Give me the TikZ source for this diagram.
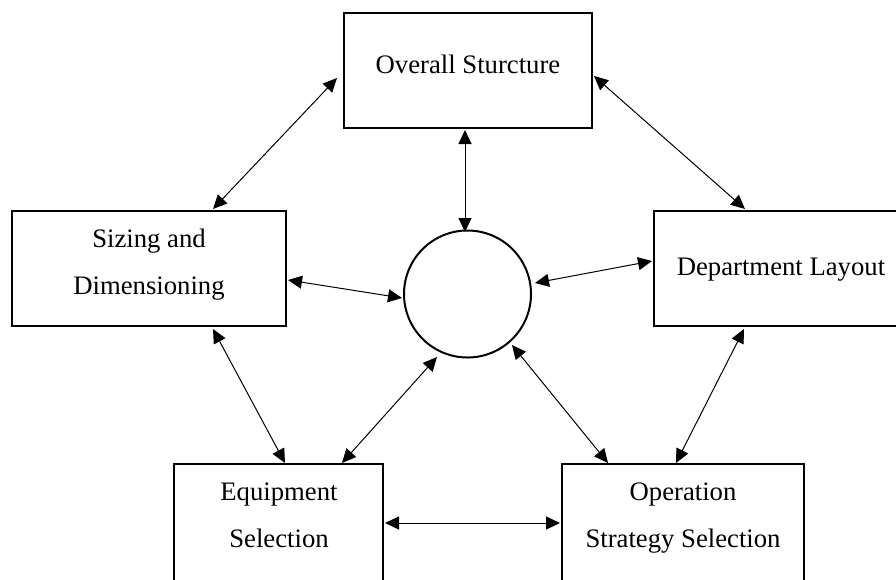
\documentclass[tikz,border=0pt]{standalone}
\usepackage{fontspec}
\setmainfont{Liberation Serif}
\usetikzlibrary{arrows.meta}
\begin{document}
\begin{tikzpicture}[x=1pt,y=-1pt,
  boxst/.style={draw,line width=2.2pt,inner sep=0pt},
  lbl/.style={font=\fontsize{26.7}{47}\selectfont,align=center,inner sep=0pt},
  conn/.style={line width=1pt,{Triangle[length=14pt,width=13pt]}-{Triangle[length=14pt,width=13pt]}}]
\useasboundingbox (0,0) rectangle (896,579);
% boxes
\draw[boxst] (344,13) rectangle (592,128);
\node[lbl] (ov) at (468,64) {Overall Sturcture};
\draw[boxst] (12,211) rectangle (286,326);
\node[lbl] (sz) at (149,265) {Sizing and\\Dimensioning};
\draw[boxst] (654,211) rectangle (908,326);
\node[lbl] (dl) at (781,270) {Department Layout};
\draw[boxst] (174,464) rectangle (383,600);
\node[lbl] (eq) at (279,515) {Equipment\\Selection};
\draw[boxst] (562,464) rectangle (804,600);
\node[lbl] (op) at (683,518) {Operation\\Strategy Selection};
\node[draw,circle,line width=2pt,minimum size=127pt,inner sep=0pt] (c) at (467.5,294) {};
% connector end points
\coordinate (a1) at (337,78);   \coordinate (b1) at (213,209);
\coordinate (a2) at (594,76);   \coordinate (b2) at (745,209);
\coordinate (a3) at (465,130);  \coordinate (b3) at (465,232);
\coordinate (a4) at (288,280);  \coordinate (b4) at (402,298);
\coordinate (a5) at (535,283);  \coordinate (b5) at (652,261);
\coordinate (a6) at (213,329);  \coordinate (b6) at (285,463);
\coordinate (a7) at (437,357);  \coordinate (b7) at (342,463);
\coordinate (a8) at (512,345);  \coordinate (b8) at (608,463);
\coordinate (a9) at (744,329);  \coordinate (b9) at (676,463);
\coordinate (a10) at (385,523); \coordinate (b10) at (560,523);
\foreach \i in {1,...,10} \draw[conn] (a\i) -- (b\i);
\end{tikzpicture}
\end{document}
